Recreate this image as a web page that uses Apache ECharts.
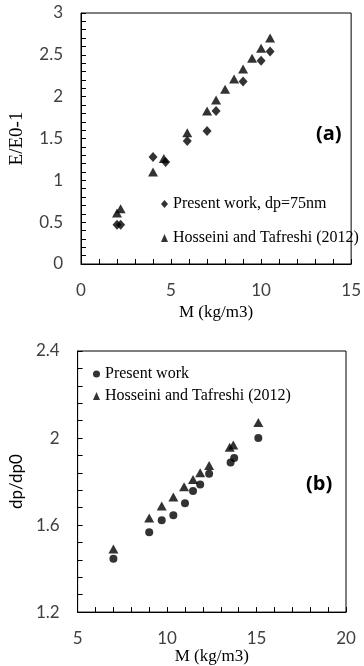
<!DOCTYPE html>
<html>
<head>
<meta charset="utf-8">
<script src="https://cdn.jsdelivr.net/npm/echarts@6/dist/echarts.min.js"></script>
<style>
html,body{margin:0;padding:0;background:#fff;}
#c{width:364px;height:666px;}
</style>
</head>
<body>
<div id="c"></div>
<script>
// ---- Data: chart (a) E/E0-1 vs M ----
const aPresentM = [2.0, 2.2, 4.0, 4.7, 5.9, 7.0, 7.5, 9.0, 10.0, 10.5];
const aPresentV = [0.47, 0.47, 1.28, 1.22, 1.47, 1.59, 1.83, 2.18, 2.43, 2.54];
const aHossM = [2.0, 2.2, 4.0, 4.6, 5.9, 7.0, 7.5, 8.0, 8.5, 9.0, 9.5, 10.0, 10.5];
const aHossV = [0.61, 0.66, 1.10, 1.26, 1.57, 1.83, 1.96, 2.09, 2.21, 2.33, 2.46, 2.58, 2.70];
// ---- Data: chart (b) dp/dp0 vs M ----
const bPresentM = [7.0, 9.0, 9.7, 10.35, 11.0, 11.45, 11.85, 12.35, 13.55, 13.75, 15.1];
const bPresentV = [1.445, 1.567, 1.622, 1.645, 1.70, 1.756, 1.786, 1.836, 1.887, 1.908, 2.0];
const bHossM = [7.0, 9.0, 9.7, 10.35, 10.95, 11.45, 11.85, 12.35, 13.5, 13.7, 15.1];
const bHossV = [1.49, 1.632, 1.688, 1.729, 1.776, 1.809, 1.84, 1.874, 1.958, 1.968, 2.071];
// ---- Labels ----
const aSeriesNames = ['Present work, dp=75nm', 'Hosseini and Tafreshi (2012)'];
const bSeriesNames = ['Present work', 'Hosseini and Tafreshi (2012) '];
const xTitle = 'M (kg/m3)';
const aYTitle = 'E/E0-1';
const bYTitle = 'dp/dp0';

const zip = (xs, ys) => xs.map((x, i) => [x, ys[i]]);
const sans = 'Lato, "Open Sans", sans-serif';
const serif = '"Liberation Serif", "DejaVu Serif", serif';
const tickLbl = {color: '#404040', fontFamily: sans, fontSize: 17};

function xAxisCfg(gi, min, max, gap) {
  return {
    gridIndex: gi, type: 'value', min: min, max: max, interval: 5,
    name: xTitle, nameLocation: 'middle', nameGap: gap,
    nameTextStyle: {fontFamily: serif, fontSize: 17, color: '#000'},
    axisLine: {lineStyle: {color: '#000', width: 1}},
    axisTick: {show: true, inside: true, length: 5, lineStyle: {color: '#000'}},
    minorTick: {show: true, splitNumber: 5, length: 5, lineStyle: {color: '#000'}},
    axisLabel: Object.assign({margin: 18}, tickLbl),
    splitLine: {show: false}
  };
}
function yAxisCfg(gi, min, max, interval, name, nameFont, gap) {
  return {
    gridIndex: gi, type: 'value', min: min, max: max, interval: interval,
    name: name, nameLocation: 'middle', nameGap: gap, nameRotate: 90,
    nameTextStyle: nameFont,
    axisLine: {lineStyle: {color: '#000', width: 1}},
    axisTick: {show: true, inside: true, length: 5, lineStyle: {color: '#000'}},
    minorTick: {show: true, splitNumber: 5, length: 5, lineStyle: {color: '#000'}},
    axisLabel: Object.assign({margin: 18}, tickLbl),
    splitLine: {show: false}
  };
}

const chart = echarts.init(document.getElementById('c'), null, {renderer: 'canvas'});
chart.setOption({
  backgroundColor: '#fff',
  animation: false,
  grid: [
    {left: 81, top: 13, width: 273, height: 251, show: true, borderColor: '#000', borderWidth: 1, containLabel: false},
    {left: 64, top: 351, width: 282, height: 263, show: true, borderColor: '#000', borderWidth: 1, containLabel: false}
  ],
  xAxis: [xAxisCfg(0, 0, 15, 40), xAxisCfg(1, 5, 20, 33)],
  yAxis: [
    yAxisCfg(0, 0, 3, 0.5, aYTitle, {fontFamily: serif, fontSize: 19, color: '#000'}, 54),
    yAxisCfg(1, 1.2, 2.4, 0.4, bYTitle, {fontFamily: sans, fontSize: 17, color: '#000'}, 31)
  ],
  legend: [
    {
      orient: 'vertical', left: 156, top: 191, itemGap: 18, itemWidth: 7, itemHeight: 8,
      textStyle: {fontFamily: serif, fontSize: 16, color: '#000'},
      data: [{name: aSeriesNames[0], icon: 'diamond'}, {name: aSeriesNames[1], icon: 'triangle'}]
    },
    {
      orient: 'vertical', left: 88, top: 361, itemGap: 6, itemWidth: 7, itemHeight: 8,
      textStyle: {fontFamily: serif, fontSize: 16, color: '#000'},
      data: [{name: bSeriesNames[0], icon: 'circle'}, {name: bSeriesNames[1], icon: 'triangle'}]
    }
  ],
  graphic: [
    {type: 'text', left: 316, top: 124, style: {text: '(a)', font: 'bold 20px "Open Sans", sans-serif', fill: '#000'}},
    {type: 'text', left: 306, top: 474, style: {text: '(b)', font: 'bold 20px "Open Sans", sans-serif', fill: '#000'}}
  ],
  series: [
    {name: aSeriesNames[0], type: 'scatter', xAxisIndex: 0, yAxisIndex: 0, symbol: 'diamond', symbolSize: [9, 10],
     itemStyle: {color: '#000'}, data: zip(aPresentM, aPresentV)},
    {name: aSeriesNames[1], type: 'scatter', xAxisIndex: 0, yAxisIndex: 0, symbol: 'triangle', symbolSize: [10, 9],
     itemStyle: {color: '#000'}, data: zip(aHossM, aHossV)},
    {name: bSeriesNames[0], type: 'scatter', xAxisIndex: 1, yAxisIndex: 1, symbol: 'circle', symbolSize: 8,
     itemStyle: {color: '#000'}, data: zip(bPresentM, bPresentV)},
    {name: bSeriesNames[1], type: 'scatter', xAxisIndex: 1, yAxisIndex: 1, symbol: 'triangle', symbolSize: [10, 9],
     itemStyle: {color: '#000'}, data: zip(bHossM, bHossV)}
  ]
});
</script>
</body>
</html>
